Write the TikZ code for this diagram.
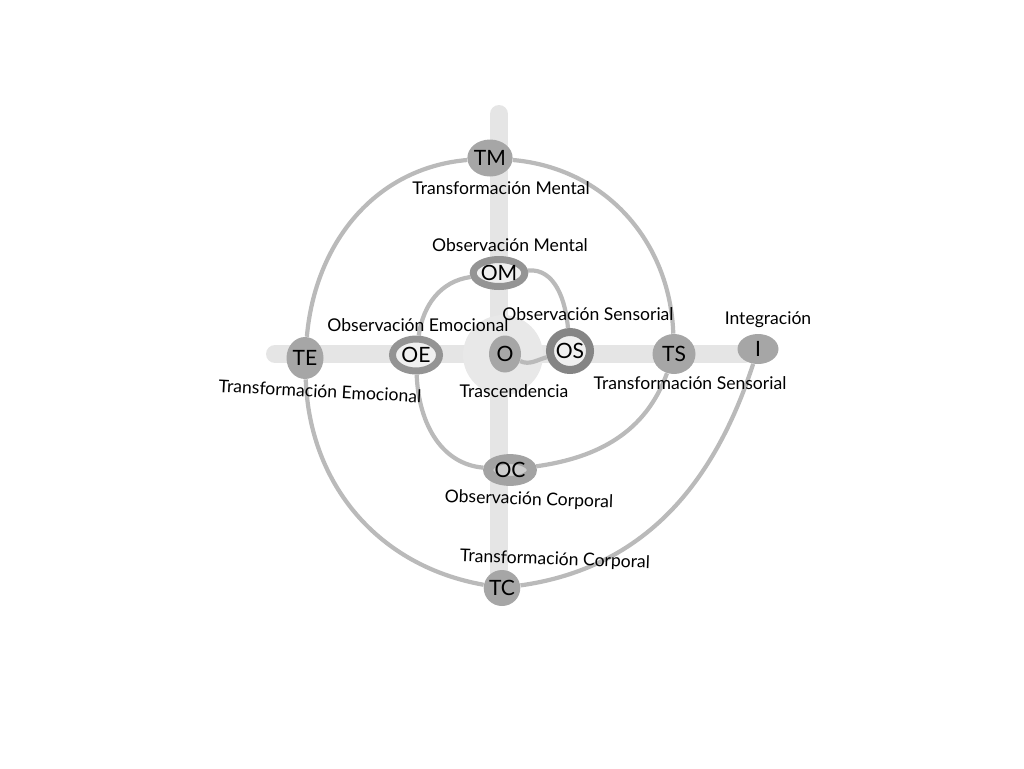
\documentclass[tikz,border=0pt]{standalone}
\usepackage{fontspec}
\setmainfont{Lato}
\usetikzlibrary{shapes.geometric}
\pgfdeclarelayer{background}
\pgfsetlayers{background,main}

\begin{document}
\begin{tikzpicture}[x=0.02cm,y=-0.02cm]
		\tikzset{full/.style = {shape=ellipse,fill=black!35,inner sep=0pt,font=\fontsize{12}{14}\selectfont}}
		\tikzset{ring/.style = {shape=ellipse,draw=black!42,fill=black!6,line width=0.14cm,inner sep=0pt,font=\fontsize{12}{14}\selectfont}}
		\tikzset{edge/.style = {draw=black!27,line width=2.4pt}}
		\tikzset{axis/.style = {draw=black!10,line width=0.36cm,line cap=round}}
		\tikzset{lbl/.style = {font=\fontsize{10}{12}\selectfont}}
		\useasboundingbox (0,0) rectangle (1024,768);
		% vertices
		\node[full,minimum width=0.64cm,minimum height=0.74cm] (O) at (505,354) {O};
		\node[ring,draw=black!48,line width=0.16cm,minimum width=0.78cm,minimum height=0.76cm] (OS) at (570,351) {OS};
		\node[ring,minimum width=0.80cm,minimum height=0.54cm] (OM) at (499,273) {OM};
		\node[ring,minimum width=0.94cm,minimum height=0.64cm] (OE) at (416,355) {OE};
		\node[ring,draw=black!36,fill=black!20,line width=0.2cm,minimum width=0.68cm,minimum height=0.42cm] (OC) at (510,470) {OC};
		\node[full,minimum width=0.86cm,minimum height=0.80cm] (TS) at (674,354) {TS};
		\node[full,minimum width=0.84cm,minimum height=0.74cm] (TM) at (490,158) {TM};
		\node[full,minimum width=0.74cm,minimum height=0.84cm] (TE) at (305,358) {TE};
		\node[full,minimum width=0.64cm,minimum height=0.72cm] (TC) at (502,588) {TC};
		\node[full,minimum width=0.82cm,minimum height=0.60cm] (I) at (758,349) {I};
		% cross
		\coordinate (hl) at (275,354);
		\coordinate (hr) at (745,354);
		\coordinate (vt) at (499,114);
		\coordinate (vb) at (499,590);
		\begin{pgfonlayer}{background}
			\draw[axis] (hl) -- (hr);
			\draw[axis] (vt) -- (vb);
			\node[circle,fill=black!9,minimum size=1.6cm] (halo) at (503,355) {};
		\end{pgfonlayer}
		% edges
		\path[edge] (O) edge[out=-25,in=-165] (OS);
		\path[edge] (OS) edge[out=95,in=5] (OM);
		\path[edge] (OM) edge[out=188,in=82] (OE);
		\path[edge] (OE) edge[out=-88,in=175] (OC);
		\path[edge] (OC) edge[out=8,in=-110] (TS);
		\path[edge] (TS) edge[out=92,in=-5] (TM);
		\path[edge] (TM) edge[out=185,in=85] (TE);
		\path[edge] (TE) edge[out=-88,in=170] (TC);
		\path[edge] (TC) edge[out=8,in=-108] (I);
		% labels
		\node[lbl] (lTM) at (501,188) {Transformación Mental};
		\node[lbl] (lOM) at (510,245) {Observación Mental};
		\node[lbl] (lOE) at (418,325) {Observación Emocional};
		\node[lbl] (lOS) at (588,314) {Observación Sensorial};
		\node[lbl] (lI) at (768,320) {Integración};
		\node[lbl] (lO) at (514,391) {Trascendencia};
		\node[lbl,rotate=-3] (lTE) at (320,391) {Transformación Emocional};
		\node[lbl] (lTS) at (690,383) {Transformación Sensorial};
		\node[lbl,rotate=-2] (lOC) at (529,500) {Observación Corporal};
		\node[lbl,rotate=-2] (lTC) at (555,560) {Transformación Corporal};
\end{tikzpicture}
\end{document}
